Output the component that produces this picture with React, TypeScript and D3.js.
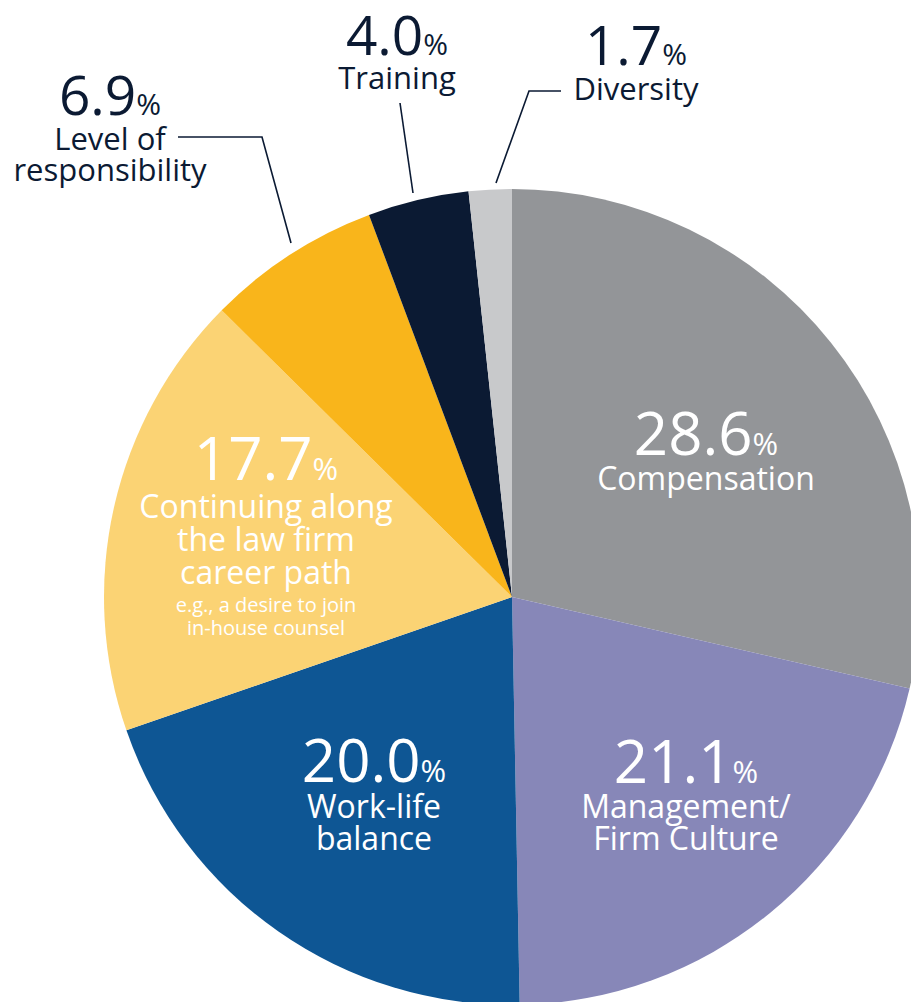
import React from "react";
import * as d3 from "d3";

const categories = [
  "Compensation",
  "Management/Firm Culture",
  "Work-life balance",
  "Continuing along the law firm career path",
  "Level of responsibility",
  "Training",
  "Diversity",
];
const values = [28.6, 21.1, 20.0, 17.7, 6.9, 4.0, 1.7];
const colors = ["#939598", "#8787b8", "#0e5694", "#fbd374", "#f9b51b", "#0b1a33", "#c8c9cb"];
const labelLines = [
  ["Compensation"],
  ["Management/", "Firm Culture"],
  ["Work-life", "balance"],
  ["Continuing along", "the law firm", "career path"],
  ["Level of", "responsibility"],
  ["Training"],
  ["Diversity"],
];
const subNote = ["e.g., a desire to join", "in-house counsel"];

// layout (not data)
const W = 911, H = 1002;
const CX = 512, CY = 597, R = 408;
const DARK = "#0b1a33";
const FONT = "'Open Sans', Lato, sans-serif";

type Lay = { x: number; y: number; num: number; pct: number; lab: number; gap: number; lh: number; color: string; line?: [number, number][] };
const layout: Lay[] = [
  { x: 706, y: 455, num: 60, pct: 31, lab: 32, gap: 35, lh: 32, color: "#fff" },
  { x: 686, y: 783, num: 60, pct: 31, lab: 32, gap: 35, lh: 32, color: "#fff" },
  { x: 374, y: 782, num: 60, pct: 31, lab: 32, gap: 36, lh: 32, color: "#fff" },
  { x: 266, y: 480, num: 60, pct: 31, lab: 32, gap: 38, lh: 33, color: "#fff" },
  { x: 110, y: 115, num: 55, pct: 30, lab: 31, gap: 35, lh: 31, color: DARK, line: [[178, 137], [262, 137], [291, 243]] },
  { x: 397, y: 55, num: 55, pct: 30, lab: 31, gap: 34, lh: 31, color: DARK, line: [[400, 103], [413, 193]] },
  { x: 636, y: 65, num: 55, pct: 30, lab: 31, gap: 35, lh: 31, color: DARK, line: [[561, 91], [529, 91], [496, 183]] },
];

export default function App() {
  const pie = d3.pie<number>().sort(null).value((d) => d).startAngle(0).endAngle(2 * Math.PI);
  const arcs = pie(values);
  const arc = d3.arc<d3.PieArcDatum<number>>().innerRadius(0).outerRadius(R);
  const lineGen = d3.line();

  return (
    <svg
      width={W}
      height={H}
      style={{ position: "absolute", left: 0, top: 0, display: "block", background: "#fff" }}
      fontFamily={FONT}
    >
      <g transform={`translate(${CX},${CY})`}>
        {arcs.map((a, i) => (
          <path key={categories[i]} d={arc(a) || ""} fill={colors[i]} />
        ))}
      </g>
      {layout.map((L, i) =>
        L.line ? (
          <path key={"l" + i} d={lineGen(L.line) || ""} fill="none" stroke={DARK} strokeWidth={1.6} />
        ) : null
      )}
      {layout.map((L, i) => (
        <g key={"t" + i} fill={L.color} textAnchor="middle">
          <text x={L.x} y={L.y}>
            <tspan fontSize={L.num}>{values[i].toFixed(1)}</tspan>
            <tspan fontSize={L.pct}>%</tspan>
          </text>
          {labelLines[i].map((s, j) => (
            <text key={j} x={L.x} y={L.y + L.gap + j * L.lh} fontSize={L.lab}>
              {s}
            </text>
          ))}
          {i === 3 &&
            subNote.map((s, j) => (
              <text key={"s" + j} x={L.x} y={612 + j * 23} fontSize={20}>
                {s}
              </text>
            ))}
        </g>
      ))}
    </svg>
  );
}
